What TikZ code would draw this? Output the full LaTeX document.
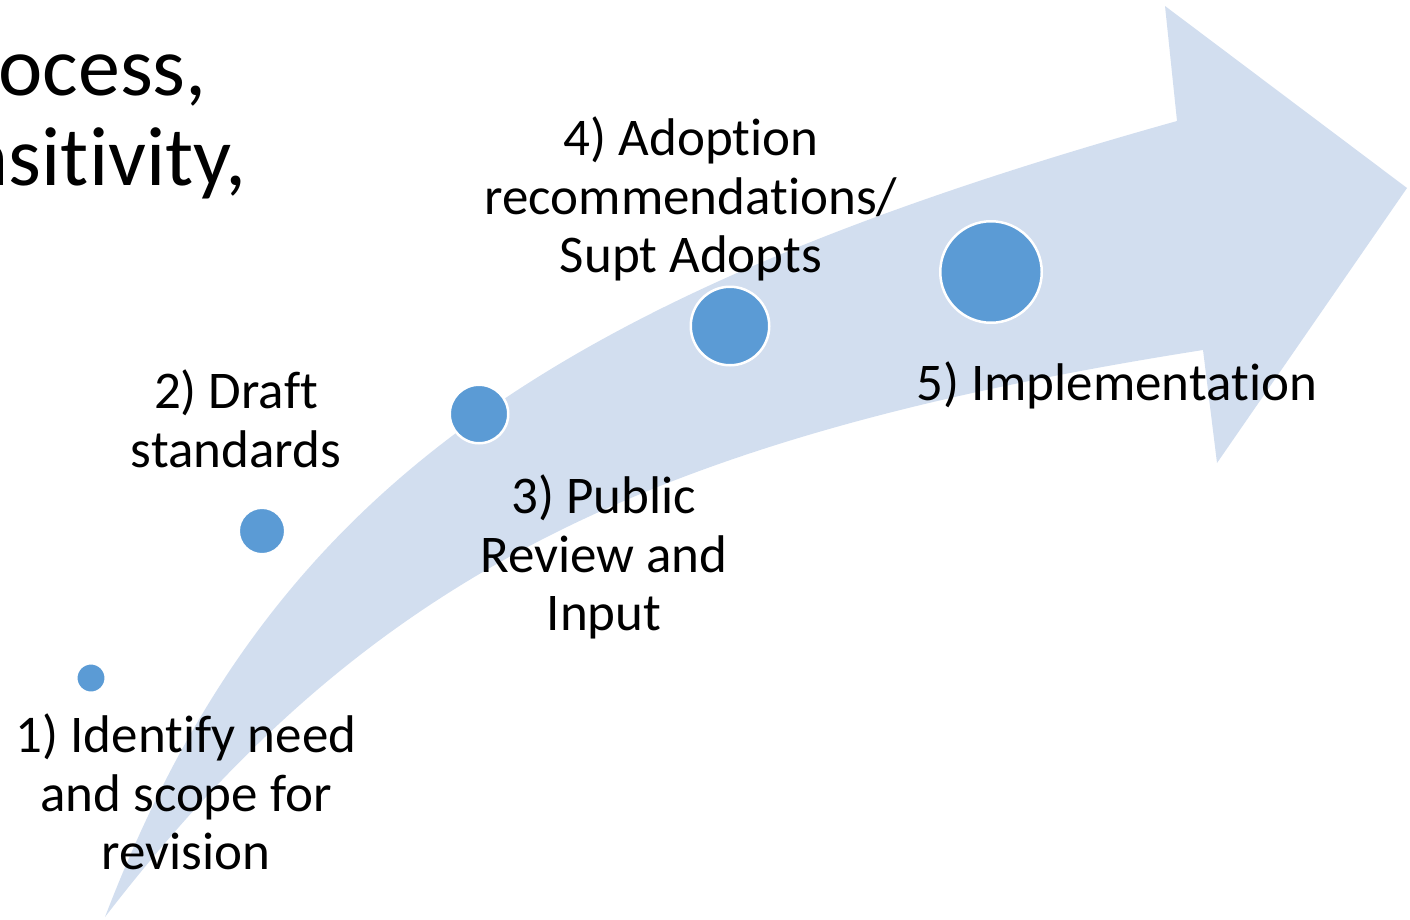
\documentclass[tikz,border=0pt]{standalone}
\usepackage{fontspec}
\setmainfont{Carlito}[Ligatures={NoCommon,NoContextual,NoRequired},RawFeature={-liga;-clig;-calt;-dlig}]
\definecolor{arrowfill}{RGB}{210,222,239}
\definecolor{dotfill}{RGB}{91,155,213}
\newcommand\lblfont{\fontsize{53}{58.5}\selectfont}
\newcommand\ttlfont{\fontsize{84}{92}\selectfont}
\begin{document}
\begin{tikzpicture}[x=1pt,y=-1pt,
  lbl/.style={font=\lblfont, align=center, inner sep=0pt, anchor=north, execute at begin node=\strut},
  dot/.style={circle, fill=dotfill, draw=white, line width=2.5pt, inner sep=0pt},
  ttl/.style={font=\ttlfont, inner sep=0pt, anchor=base east}]
\useasboundingbox (0,0) rectangle (1410,919);
\clip (0,0) rectangle (1410,919);
% curved arrow
\fill[arrowfill] (105,917)
  .. controls (265,500) and (534,301) .. (1177,121)
  -- (1165,6) -- (1407,188) -- (1217,463) -- (1203,350)
  .. controls (638,439) and (364,581) .. (105,917) -- cycle;
% dots
\node[dot, minimum size=29.5pt] (n1) at (91,678) {};
\node[dot, minimum size=46.5pt] (n2) at (262,531) {};
\node[dot, minimum size=58.5pt] (n3) at (479,414) {};
\node[dot, minimum size=78.5pt] (n4) at (730,326) {};
\node[dot, minimum size=101.5pt] (n5) at (991,272) {};
% labels
\node[lbl] (l1) at (186,714) {1) Identify need\\and scope for\\revision};
\node[lbl] (l2) at (236,370) {2) Draft\\standards};
\node[lbl] (l3) at (604,475) {3) Public\\Review and\\Input};
\node[lbl] (l4) at (691,117) {4) Adoption\\recommendations/\\Supt Adopts};
\node[font=\lblfont, inner sep=0pt, anchor=base west] (l5) at (916,400) {5) Implementation};
% title fragments
\node[ttl] (t1) at (207,95) {ocess,};
\node[ttl] (t2) at (247,185) {nsitivity,};
\end{tikzpicture}
\end{document}
